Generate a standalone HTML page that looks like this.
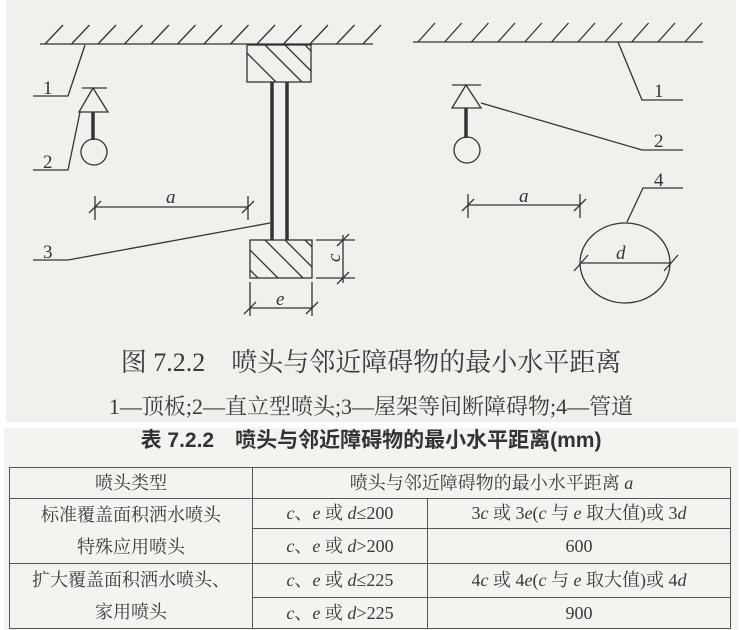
<!DOCTYPE html>
<html><head><meta charset="utf-8"><style>
html,body{margin:0;padding:0;background:#fff;}
body{width:742px;height:630px;position:relative;overflow:hidden;font-family:"Liberation Serif","Noto Serif CJK SC",serif;color:#333;}
.top{position:absolute;left:6px;top:0;width:730px;height:422px;background:#f1f0ec;}
.cap1{position:absolute;left:0;width:742px;top:342px;text-align:center;font-size:26px;color:#3a3a3a;white-space:nowrap;}
.cap2{position:absolute;left:0;width:742px;top:390px;text-align:center;font-size:22px;color:#3a3a3a;white-space:nowrap;}
.tb{position:absolute;left:4px;top:428px;width:734px;height:202px;background:#f3f3ef;}
.title{position:absolute;left:0;width:742px;top:424px;text-align:center;font-size:21px;font-weight:bold;font-family:"Liberation Sans","Noto Sans CJK SC",sans-serif;color:#333;white-space:nowrap;}
table{position:absolute;left:9px;top:467px;width:722px;border-collapse:collapse;font-size:18px;color:#3a3a3a;table-layout:fixed;}
td{border:1.5px solid #555;text-align:center;padding:0;line-height:20px;white-space:nowrap;overflow:hidden;}
i{font-family:"Liberation Serif",serif;}
</style></head><body>
<div class="top"></div>
<svg width="742" height="422" style="position:absolute;left:0;top:0" stroke="#333" fill="none" stroke-width="1.3">
<path d="M40 44H373"/>
<path d="M45 44l18 -19M71.5 44l18 -19M98 44l18 -19M124.5 44l18 -19M151 44l18 -19M177.5 44l18 -19M204 44l18 -19M230.5 44l18 -19M257 44l18 -19M283.5 44l18 -19M310 44l18 -19M336.5 44l18 -19M363 44l18 -19"/>
<path d="M413 42H703"/>
<path d="M418 42l17 -19M444.7 42l17 -19M471.4 42l17 -19M498 42l17 -19M524.8 42l17 -19M551.5 42l17 -19M578 42l17 -19M605 42l17 -19M631.6 42l17 -19M658 42l17 -19M685 42l17 -19"/>
<path d="M85 45L68 96H33"/>
<path d="M82 88H107M93 88L79 112H108Z"/>
<path d="M93 112V140" stroke-width="3.5"/>
<circle cx="94" cy="152" r="13"/>
<path d="M80 112L68 170H33"/>
<path d="M95 207H248M95 196V220M248 196V220M89 213l12 -12M242 213l12 -12"/>
<rect x="247" y="45" width="64" height="37"/>
<path d="M265 45l37 37M247 53l29 29M285 45l26 26M305 45l6 6"/>
<path d="M272 82V240M287 82V240" stroke-width="3.5"/>
<rect x="250" y="240" width="62" height="38"/>
<path d="M265 240l38 38M250 250l28 28M285 240l27 27M305 240l7 7M250 270l8 8"/>
<path d="M270 223L68 260H33"/>
<path d="M316 240H355M316 278H355M343 235V283M337 246l12 -12M337 284l12 -12"/>
<path d="M250 282V316M312 282V316M250 308H312M244 314l12 -12M306 314l12 -12"/>
<path d="M618 42L642 100H683"/>
<path d="M452 85H481M466 85L452 108H481Z"/>
<path d="M466 108V138" stroke-width="3.5"/>
<circle cx="467" cy="150" r="13"/>
<path d="M481 103L642 150H683"/>
<path d="M468 205H580M468 194V218M580 194V218M462 211l12 -12M574 211l12 -12"/>
<path d="M683 188H643L627 222"/>
<ellipse cx="625" cy="263" rx="45" ry="40"/>
<path d="M580 263H670M574 271l14 -16M664 271l14 -16"/>
<g fill="#333" stroke="none" font-family="Liberation Serif,serif" font-size="19">
<text x="43" y="94">1</text><text x="43" y="168">2</text><text x="43" y="258">3</text>
<text x="654" y="97">1</text><text x="654" y="147">2</text><text x="654" y="186">4</text>
<g font-style="italic"><text x="166" y="203">a</text><text x="519" y="202">a</text><text x="616" y="259">d</text><text x="276" y="305">e</text>
<text transform="translate(340,262) rotate(-90)">c</text></g>
</g>
</svg>
<div class="cap1">图 7.2.2　喷头与邻近障碍物的最小水平距离</div>
<div class="cap2">1—顶板;2—直立型喷头;3—屋架等间断障碍物;4—管道</div>
<div class="tb"></div>
<div class="title">表 7.2.2　喷头与邻近障碍物的最小水平距离(mm)</div>
<table>
<colgroup><col style="width:243px"><col style="width:175px"><col></colgroup>
<tr style="height:31px"><td>喷头类型</td><td colspan="2">喷头与邻近障碍物的最小水平距离 <i>a</i></td></tr>
<tr style="height:28px"><td rowspan="2" style="line-height:32px">标准覆盖面积洒水喷头<br>特殊应用喷头</td><td><i>c</i>、<i>e</i> 或 <i>d</i>≤200</td><td>3<i>c</i> 或 3<i>e</i>(<i>c</i> 与 <i>e</i> 取大值)或 3<i>d</i></td></tr>
<tr style="height:33px"><td><i>c</i>、<i>e</i> 或 <i>d</i>&gt;200</td><td>600</td></tr>
<tr style="height:33px"><td rowspan="2" style="line-height:32px">扩大覆盖面积洒水喷头、<br>家用喷头</td><td><i>c</i>、<i>e</i> 或 <i>d</i>≤225</td><td>4<i>c</i> 或 4<i>e</i>(<i>c</i> 与 <i>e</i> 取大值)或 4<i>d</i></td></tr>
<tr style="height:31px"><td><i>c</i>、<i>e</i> 或 <i>d</i>&gt;225</td><td>900</td></tr>
</table>
</body></html>
